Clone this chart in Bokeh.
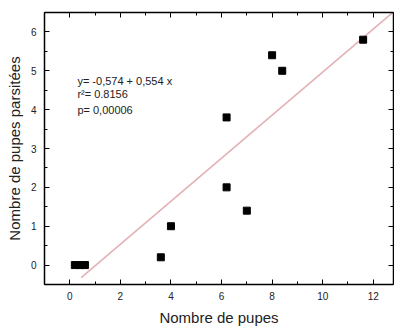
from bokeh.plotting import figure
from bokeh.models import LinearAxis, SingleIntervalTicker, Range1d
from bokeh.core.properties import value
from bokeh.embed import file_html
from bokeh.resources import INLINE

# data
pupes = [0.2, 0.4, 0.6, 3.6, 4.0, 6.2, 6.2, 7.0, 8.0, 8.4, 11.6]
parasitees = [0.0, 0.0, 0.0, 0.2, 1.0, 2.0, 3.8, 1.4, 5.4, 5.0, 5.8]
intercept = -0.574
slope = 0.554
fit_x = [0.45, 12.8]
annot_lines = ["y= -0,574 + 0,554 x", "r\u00b2= 0.8156", "p= 0,00006"]
annot_y = [4.75, 4.39, 4.0]
annot_x = [0.3, 0.3, 0.3]

FONT = "Liberation Sans"

p = figure(width=394, height=330, frame_width=349, frame_height=272,
           x_range=Range1d(-1, 12.8), y_range=Range1d(-0.5, 6.5),
           min_border_left=44, min_border_top=12, min_border_right=1, min_border_bottom=46,
           output_backend="svg", toolbar_location=None)
p.outline_line_color = None
p.grid.visible = False
p.background_fill_color = "white"
p.border_fill_color = "white"

p.xaxis.ticker = SingleIntervalTicker(interval=2, num_minor_ticks=2)
p.yaxis.ticker = SingleIntervalTicker(interval=1, num_minor_ticks=2)

for ax in [p.xaxis[0], p.yaxis[0]]:
    ax.axis_line_color = "black"
    ax.axis_line_width = 1.5
    ax.major_tick_in = 5
    ax.major_tick_out = 0
    ax.minor_tick_in = 3
    ax.minor_tick_out = 0
    ax.major_tick_line_color = "black"
    ax.minor_tick_line_color = "black"
    ax.major_label_text_font = FONT
    ax.major_label_text_font_size = "10px"
    ax.major_label_text_color = "#222222"
    ax.axis_label_text_font = FONT
    ax.axis_label_text_font_size = "15px"
    ax.axis_label_text_font_style = "normal"
    ax.axis_label_text_color = "#222222"

p.xaxis.axis_label = "Nombre de pupes"
p.yaxis.axis_label = "Nombre de pupes parsit\u00e9es"
p.xaxis.major_label_standoff = 7
p.xaxis.axis_label_standoff = 6
p.yaxis.major_label_standoff = 8
p.yaxis.axis_label_standoff = 5

top = LinearAxis(ticker=SingleIntervalTicker(interval=2, num_minor_ticks=2))
right = LinearAxis(ticker=SingleIntervalTicker(interval=1, num_minor_ticks=2))
for ax in [top, right]:
    ax.axis_line_color = "black"
    ax.axis_line_width = 1.5
    ax.major_tick_in = 5
    ax.major_tick_out = 0
    ax.minor_tick_in = 3
    ax.minor_tick_out = 0
    ax.major_label_text_font_size = "1px"
    ax.major_label_text_color = None
    ax.major_label_standoff = 0
p.add_layout(top, "above")
p.add_layout(right, "right")

fit_y = [intercept + slope * x for x in fit_x]
p.line(fit_x, fit_y, line_color="#e2b2b6", line_width=1.6)

p.scatter(pupes, parasitees, marker="square", size=7, fill_color="black", line_color="black")

p.text(x=annot_x, y=annot_y, text=annot_lines, text_font=value(FONT),
       text_font_size="11px", text_baseline="middle", text_align="left", text_color="#222222")

open("out.html", "w").write(file_html(p, INLINE))
